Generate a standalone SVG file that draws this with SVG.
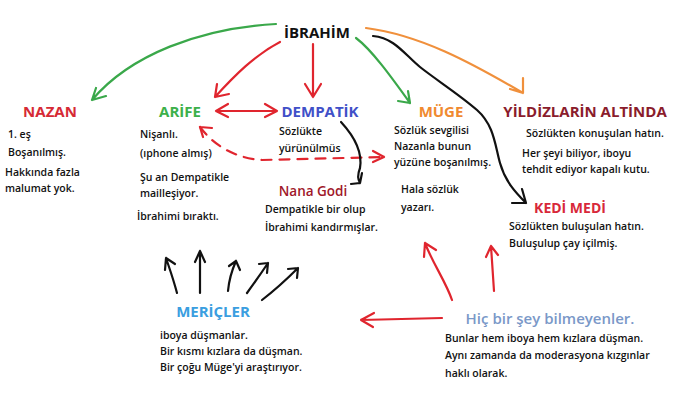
<svg xmlns="http://www.w3.org/2000/svg" width="700" height="400" viewBox="0 0 700 400">
<style>
.t{font-family:"Open Sans","Noto Sans",sans-serif;font-weight:700;font-size:15px}
.b{font-family:"Open Sans","Noto Sans",sans-serif;font-weight:600;font-size:10.5px;fill:#111}
.c{fill:none;stroke-width:2.2;stroke-linecap:round;stroke-linejoin:round}
.red{stroke:#e0252e}.grn{stroke:#3aa84a}.org{stroke:#f0903c}.blk{stroke:#111}
</style>
<rect width="700" height="400" fill="#fff"/>
<g id="connectors">
<path class="c grn" d="M276,24 C200,28 130,55 92,100 M92,100 L106,96 M92,100 L96,88"/>
<path class="c red" d="M280,42 C255,55 235,75 215,97 M215,97 L229,94 M215,97 L217,84"/>
<path class="c red" d="M313,44 L313,97 M313,97 L305,84 M313,97 L321,84"/>
<path class="c red" d="M216,111 L277,111 M216,111 L228,104 M216,111 L228,117 M277,111 L265,104 M277,111 L265,117"/>
<path class="c red" d="M200,127 C212,143 232,158 262,160 L384,157" stroke-dasharray="10,8"/>
<path class="c red" d="M200,127 L212,128 M200,127 L203,137 M384,157 L373,151 M384,157 L373,162"/>
<path class="c grn" d="M356,38 C372,50 392,78 410,103 M410,103 L398,101 M410,103 L408,91"/>
<path class="c org" d="M366,28 C420,35 470,62 523,93 M523,93 L523,78 M523,93 L510,89"/>
<path class="c blk" d="M373,36 C395,38 405,55 420,67 S460,95 477,110 S495,145 500,163 S515,192 526,203 M526,203 L512,203 M526,203 L522,189"/>
<path class="c blk" d="M341,122 C353,135 363,150 360,168 C357,176 358,180 360,183 M360,183 L351,184 M360,183 L362,173"/>
<path class="c blk" d="M177,293 C173,278 170,270 166,258 M166,258 L165,270 M166,258 L175,264"/>
<path class="c blk" d="M200,293 L200,251 M200,251 L195,262 M200,251 L205,262"/>
<path class="c blk" d="M228,291 C229,280 232,270 236,261 M236,261 L229,266 M236,261 L240,270"/>
<path class="c blk" d="M247,293 C255,282 262,272 268,263 M268,263 L259,264 M268,263 L267,273"/>
<path class="c blk" d="M262,300 C275,290 288,278 298,268 M298,268 L288,269 M298,268 L297,278"/>
<path class="c red" d="M442,318 L361,320 M361,320 L374,313 M361,320 L373,327"/>
<path class="c red" d="M452,300 C446,282 432,262 425,243 M425,243 L424,257 M425,243 L436,250"/>
<path class="c red" d="M494,291 C493,275 492,260 491,246 M491,246 L486,257 M491,246 L498,255"/>
</g>
<g id="ibrahim"><text class="t" x="317" y="38" text-anchor="middle" fill="#111">İBRAHİM</text></g>
<g id="nazan"><text class="t" x="50" y="117" text-anchor="middle" fill="#d62a35">NAZAN</text>
<text class="b" x="8" y="138">1. eş</text><text class="b" x="8" y="156">Boşanılmış.</text>
<text class="b" x="5" y="176">Hakkında fazla</text><text class="b" x="5" y="192">malumat yok.</text></g>
<g id="arife"><text class="t" x="180" y="117" text-anchor="middle" fill="#3cb04a">ARİFE</text>
<text class="b" x="140" y="138">Nişanlı.</text><text class="b" x="140" y="157">(ıphone almış)</text>
<text class="b" x="140" y="181">Şu an Dempatikle</text><text class="b" x="140" y="197">mailleşiyor.</text>
<text class="b" x="137" y="220">İbrahimi bıraktı.</text></g>
<g id="dempatik"><text class="t" x="320" y="117" text-anchor="middle" fill="#4050c8">DEMPATİK</text>
<text class="b" x="279" y="135">Sözlükte</text><text class="b" x="279" y="152">yürünülmüs</text></g>
<g id="nanagodi"><text class="t" x="313" y="196" text-anchor="middle" fill="#a0182a" style="font-weight:600;font-size:13.5px">Nana Godi</text>
<text class="b" x="265" y="213">Dempatikle bir olup</text><text class="b" x="265" y="231">İbrahimi kandırmışlar.</text></g>
<g id="muge"><text class="t" x="441" y="117" text-anchor="middle" fill="#f08a30">MÜGE</text>
<text class="b" x="394" y="134">Sözlük sevgilisi</text><text class="b" x="394" y="150">Nazanla bunun</text>
<text class="b" x="394" y="166">yüzüne boşanılmış.</text>
<text class="b" x="401" y="193">Hala sözlük</text><text class="b" x="401" y="211">yazarı.</text></g>
<g id="yildizlarin"><text class="t" x="585" y="117" text-anchor="middle" fill="#8a1c2c">YİLDİZLARİN ALTİNDA</text>
<text class="b" x="526" y="137">Sözlükten konuşulan hatın.</text>
<text class="b" x="522" y="157">Her şeyi biliyor, iboyu</text><text class="b" x="522" y="173">tehdit ediyor kapalı kutu.</text></g>
<g id="kedimedi"><text class="t" x="570" y="213" text-anchor="middle" fill="#d8283a" style="font-size:14px">KEDİ MEDİ</text>
<text class="b" x="509" y="230">Sözlükten buluşulan hatın.</text><text class="b" x="509" y="247">Buluşulup çay içilmiş.</text></g>
<g id="mericler"><text class="t" x="213" y="317" text-anchor="middle" fill="#3a9ee0">MERİÇLER</text>
<text class="b" x="160" y="339">iboya düşmanlar.</text><text class="b" x="160" y="355">Bir kısmı kızlara da düşman.</text>
<text class="b" x="160" y="371">Bir çoğu Müge'yi araştırıyor.</text></g>
<g id="hicbir"><text class="t" x="550" y="324" text-anchor="middle" fill="#7a98c8" style="font-weight:600">Hiç bir şey bilmeyenler.</text>
<text class="b" x="445" y="342">Bunlar hem iboya hem kızlara düşman.</text>
<text class="b" x="445" y="359">Aynı zamanda da moderasyona kızgınlar</text>
<text class="b" x="445" y="377">haklı olarak.</text></g>
</svg>
